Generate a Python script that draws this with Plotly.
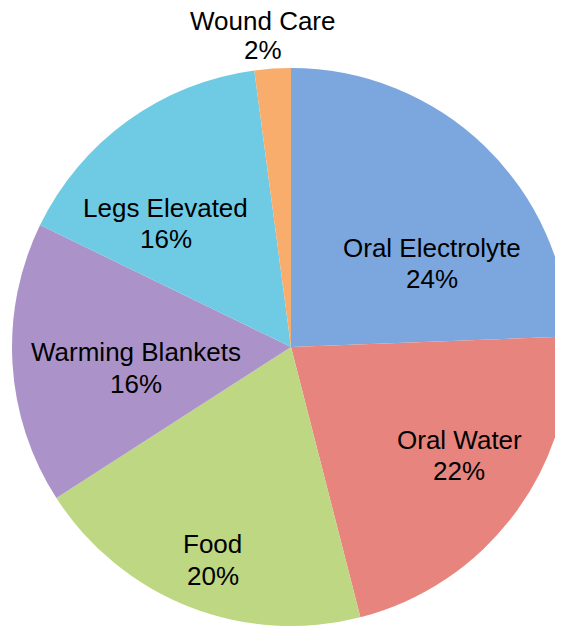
import plotly.graph_objects as go

labels = ["Oral Electrolyte", "Oral Water", "Food", "Warming Blankets", "Legs Elevated", "Wound Care"]
values = [24.4, 21.6, 19.9, 16.3, 15.7, 2.1]
colors = ["#7ba7de", "#e8847e", "#bdd782", "#ab93c9", "#6fcae3", "#f8ad6c"]

# label placement (screen pixels: x centre, y centre of name line, y centre of percent line)
label_px = [
    (431.5, 248.5, 278.5),
    (459.0, 440.0, 471.0),
    (212.5, 544.0, 575.5),
    (135.5, 352.0, 384.0),
    (165.5, 208.0, 238.5),
    (262.5, 21.0, 50.0),
]

W, H, OFF = 563, 626, 8  # page body margin offsets the figure by 8px


def px_to_paper(x, y):
    return (x - OFF) / W, 1 - (y - OFF) / H


fig = go.Figure(
    go.Pie(
        labels=labels,
        values=values,
        sort=False,
        direction="clockwise",
        rotation=0,
        marker=dict(colors=colors, line=dict(width=0)),
        textinfo="none",
        domain=dict(x=[4 / W, 562 / W], y=[(H - 618) / H, (H - 60) / H]),
        showlegend=False,
        automargin=False,
        hoverinfo="label+percent",
    )
)

total = sum(values)
font = dict(family="Liberation Sans, Arial, sans-serif", size=26, color="#000000")
for lab, val, (x, y1, y2) in zip(labels, values, label_px):
    pct = f"{round(val / total * 100)}%"
    for txt, yy in ((lab, y1), (pct, y2)):
        px_, py_ = px_to_paper(x, yy)
        fig.add_annotation(
            x=px_, y=py_, xref="paper", yref="paper",
            text=txt, showarrow=False, font=font,
            xanchor="center", yanchor="middle",
        )

fig.update_layout(
    width=W,
    height=H,
    margin=dict(l=0, r=0, t=0, b=0),
    paper_bgcolor="white",
    plot_bgcolor="white",
    showlegend=False,
)

fig.write_html("out.html")
